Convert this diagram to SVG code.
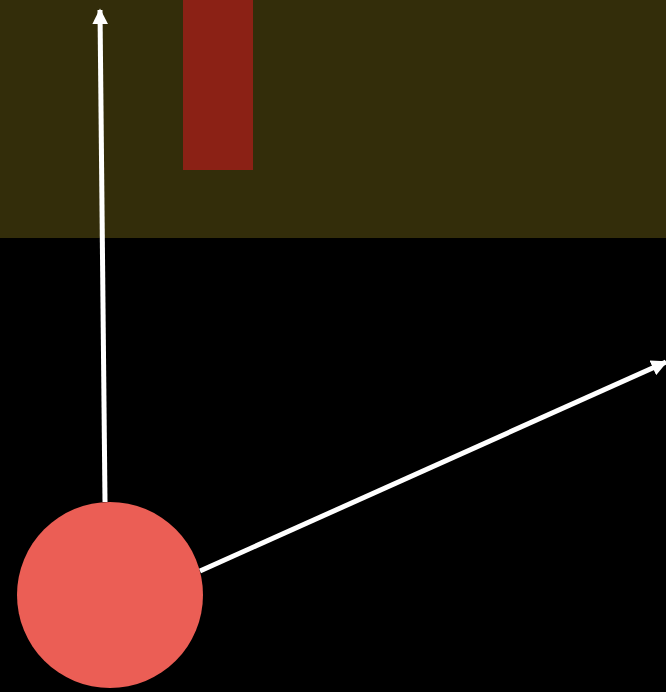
<svg xmlns="http://www.w3.org/2000/svg" width="666" height="692" viewBox="0 0 666 692">
<defs>
<marker id="ah" viewBox="0 0 10 10" refX="9" refY="5" markerWidth="3.2" markerHeight="3.2" orient="auto" markerUnits="strokeWidth">
<path d="M0,0 L10,5 L0,10 z" fill="#ffffff"/>
</marker>
<style>.c{stroke:#ffffff;stroke-width:5;fill:none;marker-end:url(#ah)}</style>
</defs>
<rect x="0" y="0" width="666" height="692" fill="#000000"/>
<g id="band"><rect x="0" y="0" width="666" height="238" fill="#332d0a"/></g>
<g id="bar"><rect x="183" y="0" width="70" height="170" fill="#8b2115"/></g>
<g id="connectors">
<line class="c" x1="105" y1="502" x2="100" y2="10"/>
<line class="c" x1="200" y1="571" x2="666" y2="362"/>
</g>
<g id="node"><circle cx="110" cy="595" r="93" fill="#eb5e55"/></g>
</svg>
